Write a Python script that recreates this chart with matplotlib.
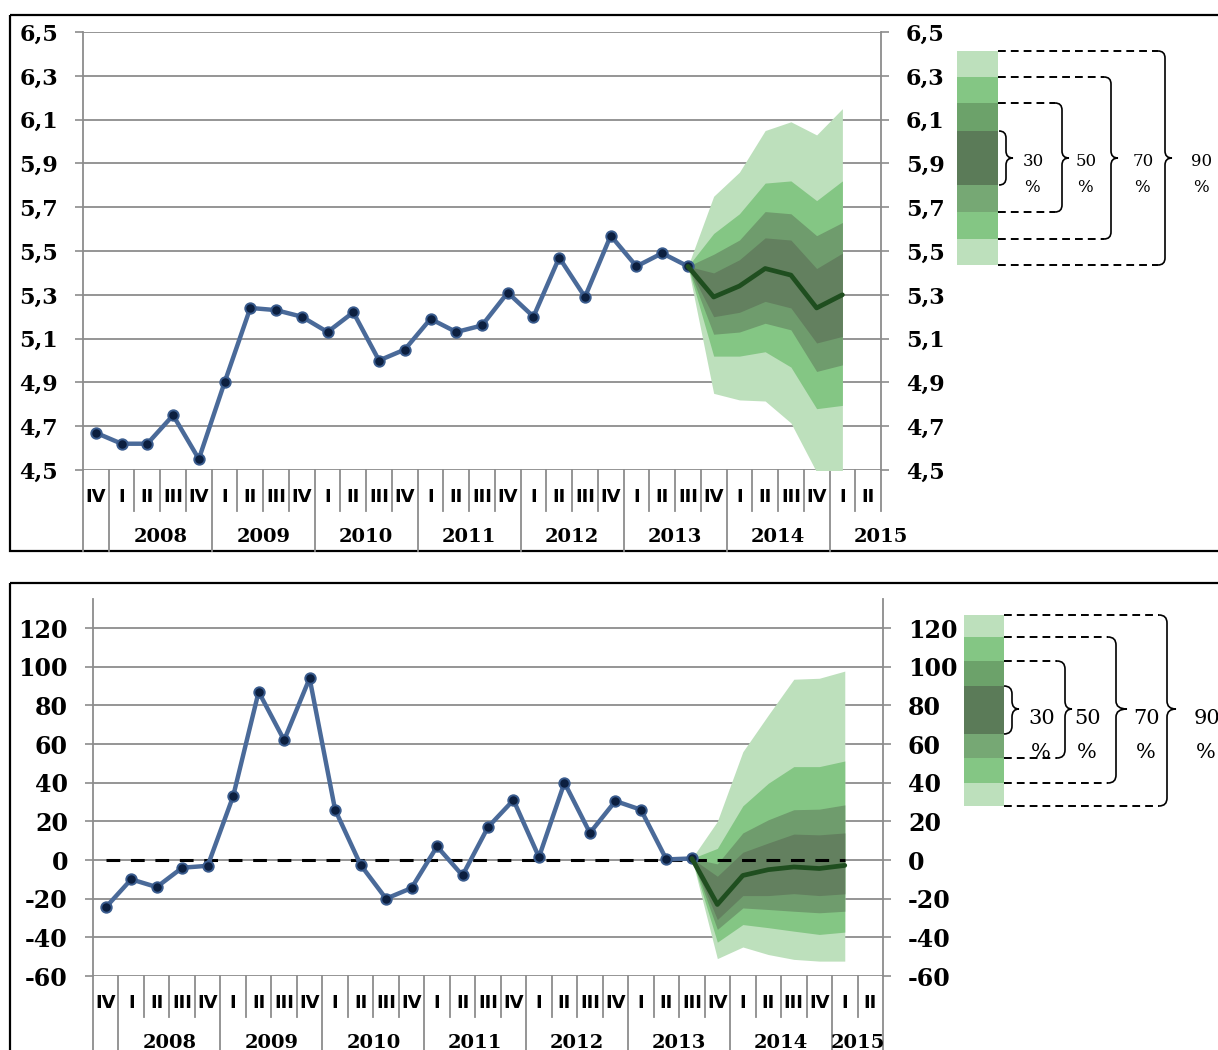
import matplotlib
matplotlib.use("Agg")
import matplotlib.pyplot as plt
import numpy as np
from matplotlib.path import Path
from matplotlib.patches import PathPatch, Rectangle
from matplotlib.transforms import blended_transform_factory

# ---------------- data ----------------
quarters = ["IV",
            "I", "II", "III", "IV",   # 2008
            "I", "II", "III", "IV",   # 2009
            "I", "II", "III", "IV",   # 2010
            "I", "II", "III", "IV",   # 2011
            "I", "II", "III", "IV",   # 2012
            "I", "II", "III", "IV",   # 2013
            "I", "II", "III", "IV",   # 2014
            "I", "II"]                # 2015
years = ["2008", "2009", "2010", "2011", "2012", "2013", "2014", "2015"]

# top chart: actual 2007Q4 .. 2013Q3
top_actual = [4.67, 4.62, 4.62, 4.75, 4.55, 4.90, 5.24, 5.23, 5.20, 5.13, 5.22, 5.00,
              5.05, 5.19, 5.13, 5.16, 5.31, 5.20, 5.47, 5.29, 5.57, 5.43, 5.49, 5.43]
# top chart forecast 2013Q3 .. 2015Q1
top_central = [5.43, 5.29, 5.34, 5.42, 5.39, 5.24, 5.30]
top_hi90 = [5.43, 5.75, 5.86, 6.05, 6.09, 6.03, 6.15]
top_hi70 = [5.43, 5.58, 5.67, 5.81, 5.82, 5.73, 5.82]
top_hi50 = [5.43, 5.485, 5.55, 5.68, 5.67, 5.57, 5.63]
top_hi30 = [5.43, 5.40, 5.46, 5.56, 5.55, 5.42, 5.49]
top_lo30 = [5.43, 5.20, 5.22, 5.27, 5.24, 5.08, 5.11]
top_lo50 = [5.43, 5.12, 5.13, 5.17, 5.14, 4.95, 4.98]
top_lo70 = [5.43, 5.02, 5.02, 5.04, 4.97, 4.78, 4.795]
top_lo90 = [5.43, 4.85, 4.82, 4.815, 4.715, 4.49, 4.47]
top_ticks = [4.5, 4.7, 4.9, 5.1, 5.3, 5.5, 5.7, 5.9, 6.1, 6.3, 6.5]
top_ticklabels = ["4,5", "4,7", "4,9", "5,1", "5,3", "5,5", "5,7", "5,9", "6,1", "6,3", "6,5"]

# bottom chart: actual 2007Q4 .. 2013Q3
bot_actual = [-24.5, -10, -14, -4, -3, 33, 87, 62, 94, 26, -2.5, -20,
              -14.5, 7, -8, 17, 31, 1.5, 40, 14, 30.5, 26, 0.3, 0.8]
bot_central = [0.8, -23, -8, -5, -3.6, -4.4, -2.8]
bot_hi90 = [0.8, 20, 56, 75, 93.5, 94, 97.7]
bot_hi70 = [0.8, 6, 28, 39.7, 48.3, 48.3, 51.2]
bot_hi50 = [0.8, -2, 14, 20.8, 26, 26.3, 28.5]
bot_hi30 = [0.8, -8.4, 4, 8.8, 13.4, 13, 14]
bot_lo30 = [0.8, -30.8, -18.4, -18.4, -17.4, -18.4, -17.5]
bot_lo50 = [0.8, -35.9, -24.8, -25.6, -26.5, -27.3, -26.5]
bot_lo70 = [0.8, -42.5, -33.4, -35, -36.8, -38.5, -37.3]
bot_lo90 = [0.8, -51, -45, -48.9, -51.4, -52.3, -52.3]
bot_ticks = [-60, -40, -20, 0, 20, 40, 60, 80, 100, 120]
bot_ticklabels = ["-60", "-40", "-20", "0", "20", "40", "60", "80", "100", "120"]
zero_level = 0

legend_labels = ["30", "50", "70", "90"]

# ---------------- style ----------------
W, H = 1218, 1050
C90, C70, C50, C30 = "#BDE0BC", "#84C684", "#6F9C6D", "#63805F"
BLUE, NAVY, DKGREEN = "#4A6A99", "#0C1F3F", "#1F4E1F"
GRID = "#8C8C8C"
SERIF = "DejaVu Serif"

fig = plt.figure(figsize=(W / 100, H / 100), dpi=100)

# overlay in pixel coordinates for frames and legends
ov = fig.add_axes([0, 0, 1, 1], zorder=-5)
ov.set_xlim(0, W)
ov.set_ylim(H, 0)
ov.axis("off")


def px_axes(left, top, right, bottom):
    return fig.add_axes([left / W, (H - bottom) / H, (right - left) / W, (bottom - top) / H])


n = len(quarters)
x = np.arange(n)
fc_x = x[len(top_actual) - 1: len(top_actual) - 1 + len(top_central)]
year_starts = [i for i, q in enumerate(quarters) if q == "I"]


def draw_chart(ax, actual, central, bands, ticks, ticklabels, ylim, fsize, ax_h_px,
               year_last_at_edge, right_axis_long, long_px, zero=None):
    ax.set_xlim(-0.5, n - 0.5)
    ax.set_ylim(*ylim)
    ax.set_yticks(ticks)
    ax.set_yticklabels(ticklabels)
    ax.set_xticks([])
    ax.yaxis.set_ticks_position("both")
    ax.tick_params(axis="y", which="both", direction="out", length=6, width=1.2,
                   color=GRID, labelleft=True, labelright=True, pad=12,
                   labelsize=fsize)
    for lab in ax.get_yticklabels():
        lab.set_fontfamily(SERIF)
        lab.set_fontweight("bold")
    ax.grid(axis="y", color=GRID, lw=1.3, zorder=0)
    ax.set_axisbelow(True)
    for s in ["top", "bottom"]:
        ax.spines[s].set_visible(False)
    for s in ["left", "right"]:
        ax.spines[s].set_color(GRID)
        ax.spines[s].set_linewidth(1.3)

    cols = [C90, C70, C50, C30]
    for (lo, hi), c in zip(bands, cols):
        ax.fill_between(fc_x, lo, hi, color=c, lw=0, zorder=1)
    if zero is not None:
        zx = x[:len(fc_x) + len(actual) - 1]
        ax.plot(zx, np.full(len(zx), zero), color="black", lw=2.2,
                dashes=(4.5, 3.5), zorder=2)
    ax.plot(x[:len(actual)], actual, color=BLUE, lw=3.2, marker="o", ms=7.5,
            mfc=NAVY, mec="#3A5C8E", mew=1.4, zorder=3, solid_capstyle="round")
    ax.plot(fc_x, central, color=DKGREEN, lw=3.4, zorder=4, solid_capstyle="round")

    # category axis (quarters / years)
    tr = blended_transform_factory(ax.transData, ax.transAxes)
    q_len = 41 / ax_h_px
    y_len = long_px / ax_h_px
    ybound = [i - 0.5 for i in year_starts]
    for b in np.arange(-0.5, n, 1.0):
        long = (b in ybound) or b == -0.5 or (b == n - 0.5 and right_axis_long)
        ax.plot([b, b], [0, -(y_len if long else q_len)], transform=tr, color=GRID,
                lw=1.3, clip_on=False, zorder=0)
    for i, q in enumerate(quarters):
        ax.text(i, -27 / ax_h_px, q, transform=tr, ha="center", va="center",
                fontsize=13, fontweight="bold", family="DejaVu Sans")
    for k, yr in enumerate(years):
        s = year_starts[k]
        e = year_starts[k + 1] if k + 1 < len(year_starts) else n
        cx = (s + e - 1) / 2
        if k == len(years) - 1 and year_last_at_edge:
            cx = n - 0.5
        ax.text(cx, -67 / ax_h_px, yr, transform=tr, ha="center", va="center",
                fontsize=14, fontweight="bold", family=SERIF)


# ---------------- top chart ----------------
ax1 = px_axes(83, 32, 881, 470)
draw_chart(ax1, top_actual, top_central,
           [(top_lo90, top_hi90), (top_lo70, top_hi70), (top_lo50, top_hi50), (top_lo30, top_hi30)],
           top_ticks, top_ticklabels, (4.5, 6.5), 16, 438, True, False, 81)

# ---------------- bottom chart ----------------
ax2 = px_axes(93, 599, 883, 976)
draw_chart(ax2, bot_actual, bot_central,
           [(bot_lo90, bot_hi90), (bot_lo70, bot_hi70), (bot_lo50, bot_hi50), (bot_lo30, bot_hi30)],
           bot_ticks, bot_ticklabels, (-60, 135), 17, 377, False, True, 90, zero=zero_level)

# ---------------- frames ----------------
ov.add_patch(Rectangle((10, 15), 1300, 536, fill=False, lw=1.6, ec="black"))
ov.add_patch(Rectangle((10, 583), 1300, 600, fill=False, lw=1.6, ec="black"))


# ---------------- legends ----------------
def brace(xv, xt, y1, y2, ym, r, lw=1.2):
    verts = [(xv - r, y1), (xv, y1), (xv, y1 + r),
             (xv, ym - r), (xv, ym), (xt, ym),
             (xv, ym), (xv, ym + r),
             (xv, y2 - r), (xv, y2), (xv - r, y2)]
    codes = [Path.MOVETO, Path.CURVE3, Path.CURVE3,
             Path.LINETO, Path.CURVE3, Path.CURVE3,
             Path.CURVE3, Path.CURVE3,
             Path.LINETO, Path.CURVE3, Path.CURVE3]
    ov.add_patch(PathPatch(Path(verts, codes), fill=False, lw=lw, ec="black"))


def legend(bx0, bx1, edges, cols, braces, ym, r, lab_pos, fs, pct_dy):
    for (ya, yb), c in zip(zip(edges[:-1], edges[1:]), cols):
        ov.add_patch(Rectangle((bx0, ya), bx1 - bx0, yb - ya, color=c, lw=0))
    m = len(edges) - 1
    for k, (xv, xt) in enumerate(braces):
        y1, y2 = edges[3 - k], edges[m - 3 + k]
        if k > 0:
            for yy in (y1, y2):
                ov.plot([bx1, xv - r], [yy, yy], color="black", lw=1.4,
                        dashes=(4, 2.6))
        brace(xv, xt, y1, y2, ym, r)
    for (lx, ly), t in zip(lab_pos, legend_labels):
        ov.text(lx, ly, t, ha="center", va="center", fontsize=fs, family=SERIF)
        ov.text(lx - 1, ly + pct_dy, "%", ha="center", va="center", fontsize=fs, family=SERIF)


leg_cols = [C90, C70, "#6CA26A", "#5B7B58", "#76A874", C70, C90]
legend(957, 998, [51, 77, 103, 131, 185, 212, 239, 265], leg_cols,
       [(1006, 1013), (1062, 1069), (1111, 1118), (1165, 1172)], 158, 7,
       [(1033, 161), (1086, 161), (1143, 161), (1202, 161)], 12, 27)
legend(964, 1004, [615, 637, 661, 686, 734, 758, 783, 806], leg_cols,
       [(1012, 1019), (1065, 1072), (1116, 1127), (1167, 1176)], 709, 8,
       [(1042, 719), (1088, 719), (1147, 719), (1207, 719)], 15, 33)

fig.savefig("out.png", dpi=100)
